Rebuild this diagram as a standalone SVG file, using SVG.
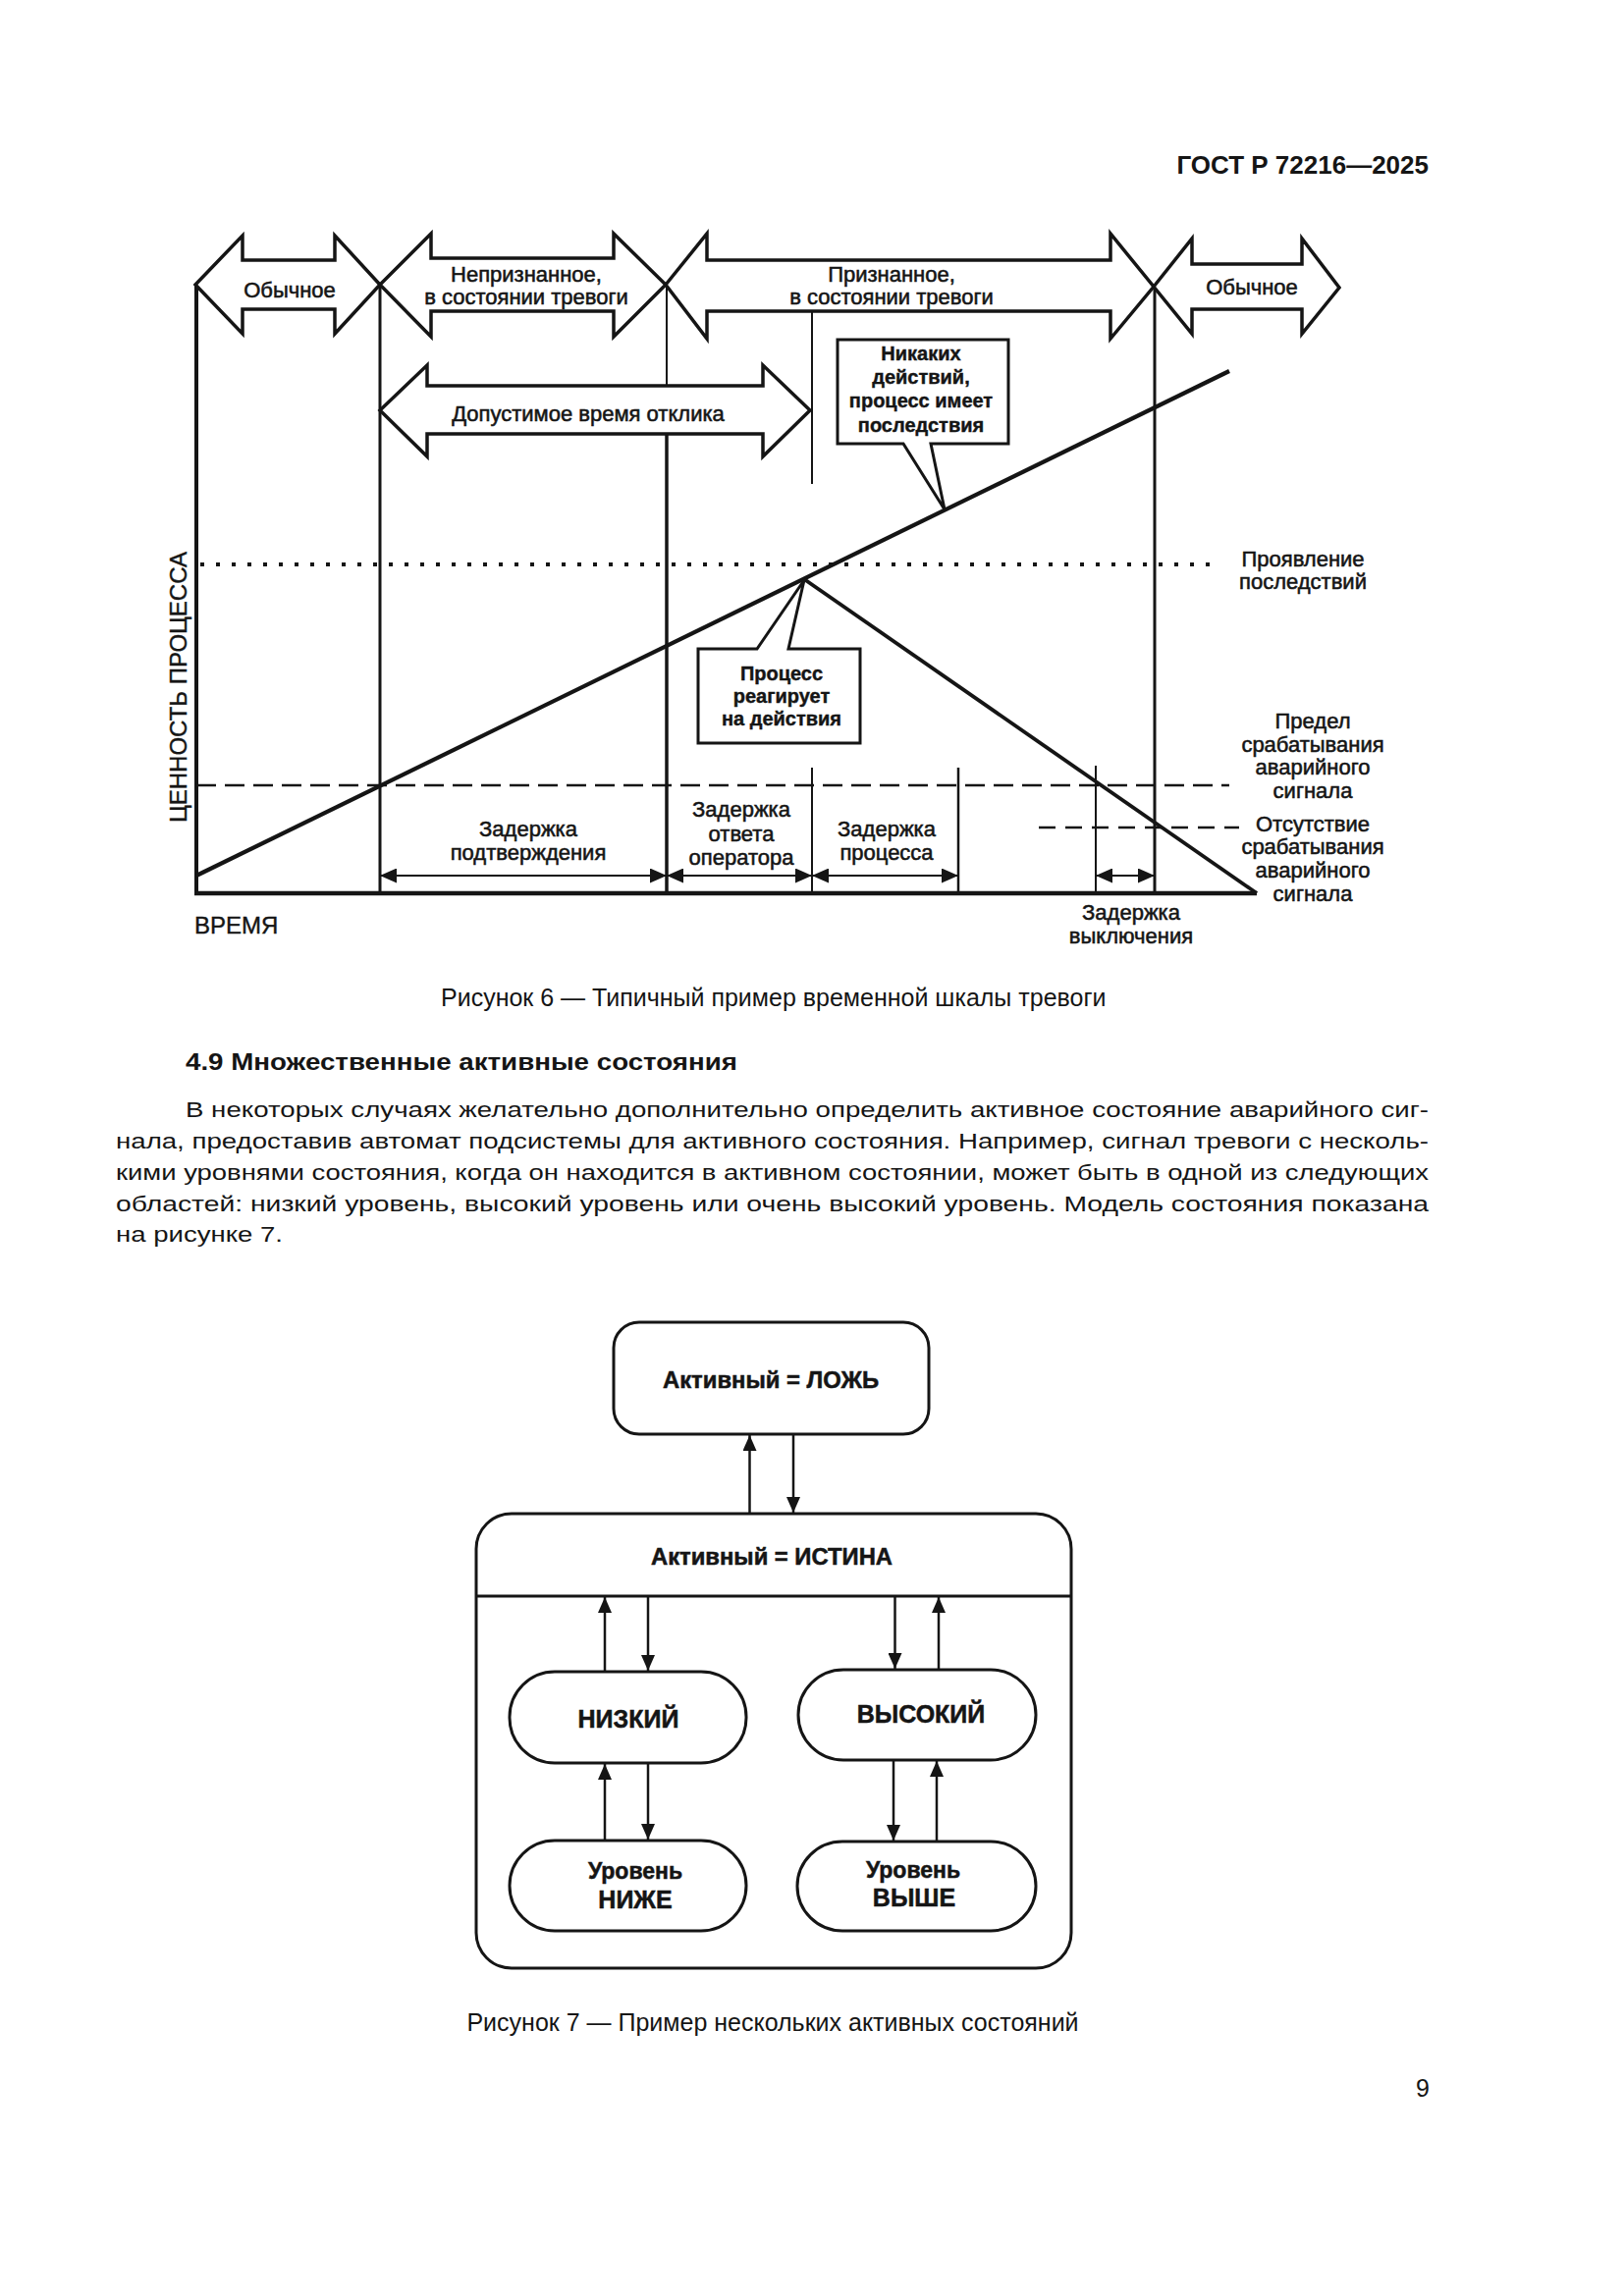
<svg xmlns="http://www.w3.org/2000/svg" width="1654" height="2339" viewBox="0 0 1654 2339">
<style>
text{font-family:"Liberation Sans",Arial,sans-serif;fill:#151515}
.lbl{font-size:22px;text-anchor:middle;stroke:#151515;stroke-width:0.55}
.cal{font-size:20px;font-weight:bold;text-anchor:middle;stroke:#151515;stroke-width:0.4}
.ax{font-size:24px;stroke:#151515;stroke-width:0.4}
.body{font-size:22px}
.cap{font-size:25px}
.st{font-size:23px;font-weight:bold;text-anchor:middle;stroke:#151515;stroke-width:0.5}
.ln{stroke:#151515;fill:none}
.blk{fill:#fff;stroke:#151515;stroke-width:3.5;stroke-linejoin:miter}
.box{fill:#fff;stroke:#151515;stroke-width:3}
.dim{stroke:#151515;stroke-width:2;fill:none;marker-start:url(#dh);marker-end:url(#dh)}
.tr{stroke:#151515;stroke-width:2.5;fill:none;marker-end:url(#ah)}
</style>
<defs>
<marker id="dh" markerUnits="userSpaceOnUse" markerWidth="17" markerHeight="15" refX="17" refY="7.5" orient="auto-start-reverse"><path d="M0,0 L17,7.5 L0,15 Z" fill="#151515"/></marker>
<marker id="ah" markerUnits="userSpaceOnUse" markerWidth="16" markerHeight="14" refX="16" refY="7" orient="auto"><path d="M0,0 L16,7 L0,14 Z" fill="#151515"/></marker>
</defs>
<rect x="0" y="0" width="1654" height="2339" fill="#fff"/>

<text x="1455" y="177" style="font-size:26px;font-weight:bold;text-anchor:end">ГОСТ Р 72216—2025</text>

<!-- Figure 6 -->
<g id="fig6">
<g id="levels">
<line class="ln" x1="204" y1="575" x2="1243" y2="575" stroke-width="4" stroke-dasharray="4 12"/>
<line class="ln" x1="200" y1="800" x2="1252" y2="800" stroke-width="2.5" stroke-dasharray="20 9"/>
<line class="ln" x1="1058" y1="843" x2="1262" y2="843" stroke-width="2.5" stroke-dasharray="17 10"/>
</g>
<g id="grid">
<line class="ln" x1="200" y1="290" x2="200" y2="912" stroke-width="4"/>
<line class="ln" x1="198" y1="910" x2="1280" y2="910" stroke-width="4.5"/>
<line class="ln" x1="387" y1="290" x2="387" y2="910" stroke-width="3"/>
<line class="ln" x1="679" y1="290" x2="679" y2="393" stroke-width="2"/>
<line class="ln" x1="679" y1="442" x2="679" y2="910" stroke-width="3.5"/>
<line class="ln" x1="827" y1="317" x2="827" y2="493" stroke-width="2"/>
<line class="ln" x1="827" y1="782" x2="827" y2="910" stroke-width="2"/>
<line class="ln" x1="976" y1="782" x2="976" y2="910" stroke-width="2.5"/>
<line class="ln" x1="1116" y1="780" x2="1116" y2="910" stroke-width="2"/>
<line class="ln" x1="1176" y1="292" x2="1176" y2="910" stroke-width="3"/>
</g>
<g id="curves">
<line class="ln" x1="200" y1="892" x2="1252" y2="378" stroke-width="4.2"/>
<line class="ln" x1="819" y1="590" x2="1280" y2="910" stroke-width="3.8"/>
</g>
<g id="phases">
<polygon id="n-normal1" class="blk" points="199,290 247,240 247,265 341,265 341,240 387,290 341,340 341,315 247,315 247,340"/>
<polygon id="n-unack" class="blk" points="387,290 439,238 439,263 625,263 625,238 678,290 625,343 625,317 439,317 439,343"/>
<polygon id="n-ack" class="blk" points="678,290 720,238 720,265 1131,265 1131,238 1175,292 1131,345 1131,317 720,317 720,345"/>
<polygon id="n-normal2" class="blk" points="1175,292 1214,243 1214,269 1326,269 1326,243 1364,293 1326,340 1326,315 1214,315 1214,340"/>
<polygon id="n-resp" class="blk" points="387,418 435,372 435,393 777,393 777,372 825,418 777,465 777,442 435,442 435,465"/>
<text class="lbl" x="295" y="303">Обычное</text>
<text class="lbl" x="536" y="287">Непризнанное,</text>
<text class="lbl" x="536" y="310">в состоянии тревоги</text>
<text class="lbl" x="908" y="287">Признанное,</text>
<text class="lbl" x="908" y="310">в состоянии тревоги</text>
<text class="lbl" x="1275" y="300">Обычное</text>
<text class="lbl" x="599" y="429">Допустимое время отклика</text>
</g>
<g id="delays">
<line class="dim" x1="387" y1="892" x2="679" y2="892"/>
<line class="dim" x1="679" y1="892" x2="827" y2="892"/>
<line class="dim" x1="827" y1="892" x2="976" y2="892"/>
<line class="dim" x1="1116" y1="892" x2="1176" y2="892"/>
</g>
<g id="n-callout1">
<path class="box" stroke-width="3.5" d="M853,346 H1027 V452 H948 L962,519 L920,452 H853 Z"/>
<text class="cal" x="938" y="367">Никаких</text>
<text class="cal" x="938" y="391">действий,</text>
<text class="cal" x="938" y="415">процесс имеет</text>
<text class="cal" x="938" y="440">последствия</text>
</g>
<g id="n-callout2">
<path class="box" stroke-width="3.5" d="M711,661 H771 L819,591 L803,661 H876 V757 H711 Z"/>
<text class="cal" x="796" y="693">Процесс</text>
<text class="cal" x="796" y="716">реагирует</text>
<text class="cal" x="796" y="739">на действия</text>
</g>
<g id="labels">
<text class="lbl" x="538" y="852">Задержка</text>
<text class="lbl" x="538" y="876">подтверждения</text>
<text class="lbl" x="755" y="832">Задержка</text>
<text class="lbl" x="755" y="857">ответа</text>
<text class="lbl" x="755" y="881">оператора</text>
<text class="lbl" x="903" y="852">Задержка</text>
<text class="lbl" x="903" y="876">процесса</text>
<text class="lbl" x="1152" y="937">Задержка</text>
<text class="lbl" x="1152" y="961">выключения</text>
<text class="lbl" x="1327" y="577">Проявление</text>
<text class="lbl" x="1327" y="600">последствий</text>
<text class="lbl" x="1337" y="742">Предел</text>
<text class="lbl" x="1337" y="766">срабатывания</text>
<text class="lbl" x="1337" y="789">аварийного</text>
<text class="lbl" x="1337" y="813">сигнала</text>
<text class="lbl" x="1337" y="847">Отсутствие</text>
<text class="lbl" x="1337" y="870">срабатывания</text>
<text class="lbl" x="1337" y="894">аварийного</text>
<text class="lbl" x="1337" y="918">сигнала</text>
<text class="ax" x="198" y="951">ВРЕМЯ</text>
<text class="ax" transform="translate(190,700) rotate(-90)" text-anchor="middle">ЦЕННОСТЬ ПРОЦЕССА</text>
</g>
</g>

<text class="cap" x="449" y="1025">Рисунок 6 — Типичный пример временной шкалы тревоги</text>

<text x="189" y="1090" style="font-size:24px;font-weight:bold" textLength="562" lengthAdjust="spacingAndGlyphs">4.9 Множественные активные состояния</text>
<text class="body" x="189" y="1138" textLength="1266" lengthAdjust="spacingAndGlyphs">В некоторых случаях желательно дополнительно определить активное состояние аварийного сиг-</text>
<text class="body" x="118" y="1170" textLength="1337" lengthAdjust="spacingAndGlyphs">нала, предоставив автомат подсистемы для активного состояния. Например, сигнал тревоги с несколь-</text>
<text class="body" x="118" y="1202" textLength="1337" lengthAdjust="spacingAndGlyphs">кими уровнями состояния, когда он находится в активном состоянии, может быть в одной из следующих</text>
<text class="body" x="118" y="1234" textLength="1337" lengthAdjust="spacingAndGlyphs">областей: низкий уровень, высокий уровень или очень высокий уровень. Модель состояния показана</text>
<text class="body" x="118" y="1265" textLength="170" lengthAdjust="spacingAndGlyphs">на рисунке 7.</text>

<!-- Figure 7 -->
<g id="fig7">
<g id="s-false">
<rect class="box" x="625" y="1347" width="321" height="114" rx="26"/>
<text class="st" x="785" y="1414" textLength="220" lengthAdjust="spacingAndGlyphs">Активный = ЛОЖЬ</text>
</g>
<g id="s-true">
<rect class="box" x="485" y="1542" width="606" height="463" rx="36"/>
<line class="ln" x1="485" y1="1626" x2="1091" y2="1626" stroke-width="3"/>
<text class="st" x="786" y="1594" textLength="246" lengthAdjust="spacingAndGlyphs">Активный = ИСТИНА</text>
</g>
<g id="s-low">
<rect class="box" x="519" y="1703" width="241" height="93" rx="46"/>
<text class="st" x="640" y="1760" style="font-size:25px">НИЗКИЙ</text>
</g>
<g id="s-high">
<rect class="box" x="813" y="1701" width="242" height="92" rx="46"/>
<text class="st" x="938" y="1755" style="font-size:25px">ВЫСОКИЙ</text>
</g>
<g id="s-lower">
<rect class="box" x="519" y="1875" width="241" height="92" rx="46"/>
<text class="st" x="647" y="1914">Уровень</text>
<text class="st" x="647" y="1944" style="font-size:25px">НИЖЕ</text>
</g>
<g id="s-higher">
<rect class="box" x="812" y="1876" width="243" height="91" rx="46"/>
<text class="st" x="930" y="1913">Уровень</text>
<text class="st" x="931" y="1942" style="font-size:25px">ВЫШЕ</text>
</g>
<g id="transitions">
<line class="tr" x1="763.5" y1="1542" x2="763.5" y2="1462"/>
<line class="tr" x1="808" y1="1461" x2="808" y2="1541"/>
<line class="tr" x1="616" y1="1703" x2="616" y2="1627"/>
<line class="tr" x1="660" y1="1626" x2="660" y2="1702"/>
<line class="tr" x1="911.5" y1="1626" x2="911.5" y2="1700"/>
<line class="tr" x1="956" y1="1701" x2="956" y2="1627"/>
<line class="tr" x1="616" y1="1875" x2="616" y2="1797"/>
<line class="tr" x1="660" y1="1796" x2="660" y2="1874"/>
<line class="tr" x1="910" y1="1793" x2="910" y2="1875"/>
<line class="tr" x1="954" y1="1876" x2="954" y2="1794"/>
</g>
</g>

<text class="cap" x="787" y="2069" text-anchor="middle">Рисунок 7 — Пример нескольких активных состояний</text>
<text class="cap" x="1456" y="2136" text-anchor="end">9</text>
</svg>
